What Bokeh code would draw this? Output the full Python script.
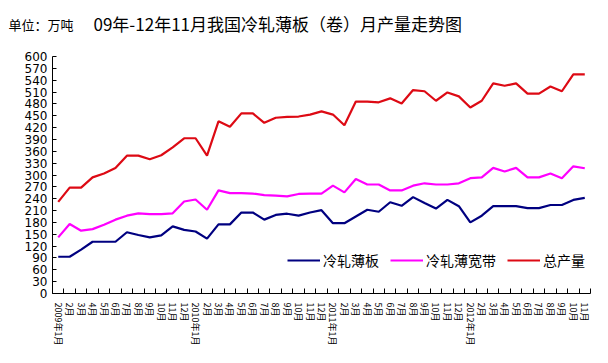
import math
from bokeh.plotting import figure
from bokeh.models import FixedTicker, Legend, LegendItem, ColumnDataSource, Title
from bokeh.embed import file_html
from bokeh.resources import INLINE

# ---- data ----
years = ["2009", "2010", "2011", "2012"]
months_per_year = [12, 12, 12, 11]
months = []
for yr, n in zip(years, months_per_year):
    for m in range(1, n + 1):
        months.append(f"{yr}年{m}月" if m == 1 else f"{m}月")

sheet = [93, 93, 111, 131, 131, 131, 155, 148, 142, 147, 170, 161,
         157, 139, 175, 175, 205, 205, 187, 199, 202, 197, 205, 211,
         178, 178, 195, 212, 207, 231, 222, 244, 229, 215, 237, 221,
         180, 197, 221, 221, 221, 216, 216, 224, 224, 237, 242]
wide_strip = [142, 176, 159, 163, 174, 187, 197, 203, 201, 201, 203, 233,
              238, 212, 261, 254, 254, 253, 249, 248, 246, 252, 253, 253,
              273, 256, 290, 276, 276, 261, 261, 273, 279, 276, 276, 279,
              292, 294, 318, 309, 318, 294, 294, 304, 292, 322, 317]
total = [232, 268, 268, 294, 304, 318, 349, 349, 340, 350, 370, 393,
         393, 349, 436, 422, 456, 456, 432, 445, 447, 448, 453, 461,
         453, 426, 486, 486, 484, 494, 481, 515, 512, 488, 509, 499,
         471, 488, 532, 526, 532, 506, 506, 524, 512, 555, 555]
series_names = ["冷轧薄板", "冷轧薄宽带", "总产量"]
series_colors = ["#000080", "#FF00FF", "#DD0A14"]
y_ticks = list(range(0, 601, 30))
title_text = "09年-12年11月我国冷轧薄板（卷）月产量走势图"
unit_text = "单位：万吨"

idx = list(range(len(months)))
src = ColumnDataSource(dict(x=idx, sheet=sheet, wide=wide_strip, total=total))

CJK = "Noto Sans CJK SC"

p = figure(width=600, height=355, output_backend="svg", toolbar_location=None,
           x_range=(-0.5, len(months) - 0.5), y_range=(0, 600), title=None,
           min_border_left=52, min_border_right=10, min_border_top=56,
           min_border_bottom=62)
p.xgrid.visible = False
p.ygrid.visible = False
p.outline_line_color = None
p.background_fill_color = "white"
p.border_fill_color = "white"

yax = p.yaxis[0]
yax.ticker = FixedTicker(ticks=y_ticks)
yax.major_tick_in = 4
yax.major_tick_out = 0
yax.minor_tick_in = 0
yax.minor_tick_out = 0
yax.major_label_text_font = "DejaVu Sans"
yax.major_label_text_font_size = "12px"
yax.major_label_text_color = "black"
yax.major_label_standoff = 5
yax.axis_line_color = "black"
yax.major_tick_line_color = "black"

xax = p.xaxis[0]
bounds = [i - 0.5 for i in range(len(months) + 1)]
xax.ticker = FixedTicker(ticks=idx, minor_ticks=bounds)
xax.major_tick_in = 0
xax.major_tick_out = 0
xax.minor_tick_in = 5
xax.minor_tick_out = 0
xax.minor_tick_line_color = "black"
xax.major_label_overrides = {i: m for i, m in enumerate(months)}
xax.major_label_orientation = -math.pi / 2
xax.major_label_text_font = CJK
xax.major_label_text_font_size = "9px"
xax.major_label_text_color = "black"
xax.major_label_standoff = 9
xax.axis_line_color = "black"

renderers = []
for col, color in zip(["sheet", "wide", "total"], series_colors):
    r = p.line("x", col, source=src, line_color=color, line_width=2.2)
    renderers.append(r)

legend = Legend(items=[LegendItem(label=n, renderers=[r]) for n, r in zip(series_names, renderers)],
                orientation="horizontal", location=(235, 23), glyph_width=33, glyph_height=20,
                label_standoff=3, spacing=11, padding=0, margin=0,
                border_line_color=None, background_fill_alpha=0,
                label_text_font=CJK, label_text_font_size="14px", label_text_color="black")
p.add_layout(legend)

main_title = Title(text=title_text, align="left", offset=41, text_font=CJK,
                   text_font_size="17px", text_font_style="normal", text_color="black",
                   vertical_align="top", standoff=-92)
p.add_layout(main_title, "above")
unit_title = Title(text=unit_text, align="left", offset=-44, text_font=CJK,
                   text_font_size="13px", text_font_style="normal", text_color="black",
                   vertical_align="top", standoff=-83)
p.add_layout(unit_title, "above")

open("out.html", "w").write(file_html(p, INLINE))
